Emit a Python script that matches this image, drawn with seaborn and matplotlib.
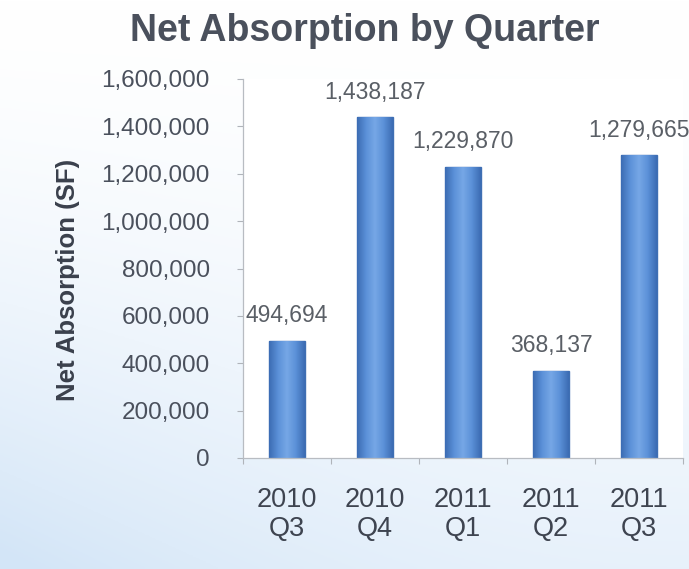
import numpy as np
import pandas as pd
import matplotlib
matplotlib.use("Agg")
import matplotlib.pyplot as plt
from matplotlib.colors import LinearSegmentedColormap
import seaborn as sns

quarters = ["2010\nQ3", "2010\nQ4", "2011\nQ1", "2011\nQ2", "2011\nQ3"]
absorption = [494694, 1438187, 1229870, 368137, 1279665]
y_ticks = [0, 200000, 400000, 600000, 800000, 1000000, 1200000, 1400000, 1600000]

df = pd.DataFrame({"quarter": quarters, "absorption": absorption})

sns.set_theme(style="white")
plt.rcParams["font.family"] = ["Liberation Sans", "DejaVu Sans"]

fig = plt.figure(figsize=(6.89, 5.69), dpi=100)

# soft blue page tint behind the chart, strongest at the lower left
bg = fig.add_axes([0, 0, 1, 1], zorder=-10)
yy, xx = np.mgrid[0:1:200j, 0:1:200j]
tint = np.clip(0.55 * (1 - yy) ** 1.6 + 0.5 * (1 - xx) ** 2 * (1 - yy) ** 1.5, 0, 1)
white = np.array([1.0, 1.0, 1.0])
blue = np.array([0.83, 0.90, 0.97])
img = white + (blue - white) * tint[..., None]
bg.imshow(img, extent=[0, 1, 0, 1], origin="lower", aspect="auto")
bg.set_axis_off()

ax = fig.add_axes([243 / 689, 1 - 458 / 569, 440 / 689, (458 - 79) / 569])
ax.set_facecolor("white")

sns.barplot(data=df, x="quarter", y="absorption", ax=ax, color="#5a8fd6",
            width=0.4, edgecolor="#3f6fb3", linewidth=1.0, saturation=1)

# cylinder-like shading across each bar
shade = LinearSegmentedColormap.from_list(
    "shade", ["#3c6cb4", "#5b91d8", "#76a7e6", "#5b91d8", "#3c6cb4"])
grad = np.linspace(0, 1, 64).reshape(1, -1)
for patch in ax.patches:
    x0, y0 = patch.get_x(), patch.get_y()
    w, h = patch.get_width(), patch.get_height()
    im = ax.imshow(grad, cmap=shade, aspect="auto",
                   extent=[x0, x0 + w, y0, y0 + h], zorder=patch.get_zorder() + 0.1)
    im.set_clip_path(patch)

for i, v in enumerate(absorption):
    ax.text(i, v + 105000, f"{v:,}", ha="center", va="center",
            fontsize=16.5, color="#5a5f66", clip_on=False)

ax.set_xlim(-0.5, 4.5)
ax.set_ylim(0, 1600000)
ax.set_yticks(y_ticks)
ax.set_yticklabels([f"{t:,}" for t in y_ticks], fontsize=17.5, color="#4a505c")
ax.set_xticks(range(len(quarters)))
ax.set_xticklabels(quarters, fontsize=19.5, color="#3e4450", linespacing=1.15)
ax.tick_params(axis="x", length=0, pad=21)
ax.tick_params(axis="y", length=4, color="#b0b4ba", width=0.8, pad=20, left=True)
# small boundary ticks between categories
ax.set_xticks(np.arange(-0.5, 5.0, 1.0), minor=True)
ax.tick_params(axis="x", which="minor", length=4, color="#b0b4ba", width=0.8, bottom=True)

for s in ["top", "right"]:
    ax.spines[s].set_visible(False)
for s in ["left", "bottom"]:
    ax.spines[s].set_color("#b8bcc2")
    ax.spines[s].set_linewidth(0.9)

ax.set_xlabel("")
ax.set_ylabel("")
fig.text(68 / 689, 1 - 280 / 569, "Net Absorption (SF)", rotation=90,
         ha="center", va="center", fontsize=18.5, fontweight="bold",
         color="#3a404c")

fig.text(365 / 689, 1 - 31 / 569, "Net Absorption by Quarter", ha="center",
         va="center", fontsize=27, fontweight="bold", color="#4a505c")

fig.savefig("out.png", dpi=100)
